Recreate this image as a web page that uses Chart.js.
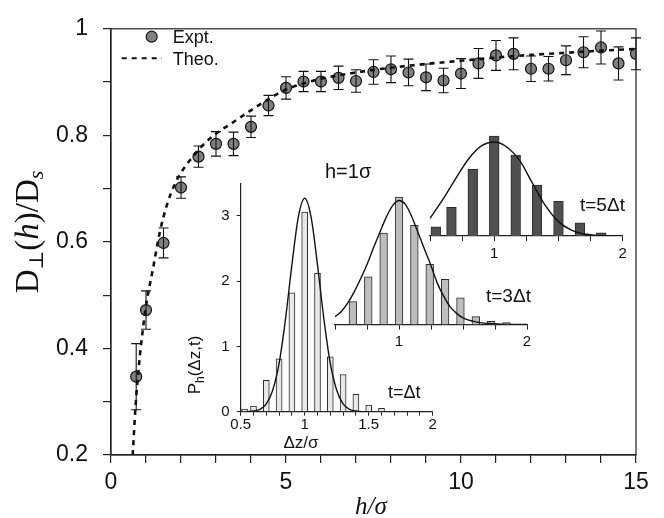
<!DOCTYPE html>
<html>
<head>
<meta charset="utf-8">
<script src="https://cdn.jsdelivr.net/npm/chart.js@4.4.0/dist/chart.umd.min.js"></script>
<style>
  html, body { margin: 0; padding: 0; background: #fff; }
  #wrap { position: relative; width: 664px; height: 518px; }
  #wrap canvas { position: absolute; left: 0; top: 0; }
</style>
</head>
<body>
<div id="wrap">
  <canvas id="main" width="664" height="518"></canvas>
  <canvas id="ins1" width="664" height="518"></canvas>
  <canvas id="ins2" width="664" height="518"></canvas>
  <canvas id="ins3" width="664" height="518"></canvas>
</div>
<script>
// ——— DATA ———
// main panel: D_perp(h)/D_s vs h/sigma
const exptH   = [0.72, 1.0, 1.5, 2.0, 2.5, 3.0, 3.5, 4.0, 4.5, 5.0, 5.5, 6.0, 6.5, 7.0, 7.5,
                 8.0, 8.5, 9.0, 9.5, 10.0, 10.5, 11.0, 11.5, 12.0, 12.5, 13.0, 13.5, 14.0, 14.5, 15.0];
const exptD   = [0.347, 0.472, 0.598, 0.702, 0.760, 0.784, 0.784, 0.816, 0.856, 0.889, 0.901, 0.901, 0.908, 0.902, 0.919,
                 0.924, 0.918, 0.909, 0.903, 0.916, 0.935, 0.950, 0.953, 0.925, 0.925, 0.941, 0.956, 0.965, 0.935, 0.953];
const exptErr = [0.062, 0.036, 0.028, 0.020, 0.020, 0.023, 0.022, 0.020, 0.019, 0.021, 0.019, 0.019, 0.022, 0.021, 0.023,
                 0.025, 0.025, 0.025, 0.023, 0.028, 0.028, 0.028, 0.030, 0.024, 0.023, 0.027, 0.029, 0.031, 0.031, 0.030];
const theoH = [0.62, 0.7, 0.8, 0.9, 1.0, 1.2, 1.4, 1.6, 1.8, 2.0, 2.3, 2.6, 3.0, 3.5, 4.0, 4.5, 5.0,
               6.0, 7.0, 8.0, 9.0, 10.0, 11.0, 12.0, 13.0, 14.0, 15.0];
const theoD = [0.20, 0.29, 0.37, 0.43, 0.48, 0.55, 0.62, 0.67, 0.705, 0.73, 0.757, 0.78, 0.803, 0.825, 0.847, 0.868, 0.886,
               0.906, 0.918, 0.927, 0.934, 0.94, 0.946, 0.951, 0.955, 0.959, 0.962];
const mainXLabels = [0, 5, 10, 15];
const mainYLabels = [0.2, 0.4, 0.6, 0.8, 1];

// insets: P_h(dz,t) histograms + fits, h = 1 sigma
const dt1Bins   = [0.53, 0.6, 0.7, 0.8, 0.9, 1.0, 1.1, 1.2, 1.3, 1.4, 1.5, 1.6];
const dt1Counts = [0.04, 0.087, 0.48, 0.81, 1.82, 3.06, 2.12, 0.84, 0.57, 0.265, 0.10, 0.05];
const dt1FitX   = [0.55, 0.6, 0.65, 0.7, 0.75, 0.8, 0.85, 0.9, 0.95, 1.0, 1.05, 1.1, 1.15, 1.2, 1.25, 1.3, 1.35, 1.4, 1.45, 1.5];
const dt1FitY   = [0.0, 0.01, 0.035, 0.12, 0.33, 0.74, 1.42, 2.25, 2.98, 3.27, 2.98, 2.25, 1.42, 0.74, 0.33, 0.12, 0.035, 0.01, 0.0, 0.0];
const dt1XLabels = [0.5, 1, 1.5, 2];

const dt3Bins   = [0.64, 0.76, 0.88, 1.0, 1.12, 1.24, 1.36, 1.48, 1.60, 1.72, 1.84];
const dt3Counts = [0.35, 0.73, 1.40, 1.95, 1.52, 0.92, 0.69, 0.41, 0.12, 0.05, 0.03];
const dt3FitX   = [0.5, 0.55, 0.6, 0.65, 0.7, 0.75, 0.8, 0.85, 0.9, 0.95, 1.0, 1.05, 1.1, 1.15, 1.2, 1.25, 1.3, 1.35, 1.4, 1.45, 1.5, 1.6, 1.7, 1.8, 2.0];
const dt3FitY   = [0.12, 0.2, 0.33, 0.5, 0.7, 0.92, 1.17, 1.41, 1.64, 1.82, 1.9, 1.84, 1.65, 1.4, 1.15, 0.9, 0.63, 0.43, 0.27, 0.17, 0.1, 0.04, 0.015, 0.005, 0.0];

const dt5Bins   = [0.545, 0.667, 0.833, 1.0, 1.167, 1.333, 1.5, 1.667, 1.833, 2.0];
const dt5Counts = [0.14, 0.44, 1.02, 1.53, 1.24, 0.78, 0.53, 0.20, 0.05, 0.015];
const dt5FitX   = [0.5, 0.6, 0.7, 0.8, 0.9, 1.0, 1.1, 1.2, 1.3, 1.4, 1.5, 1.6, 1.7, 1.8, 1.9, 2.0];
const dt5FitY   = [0.27, 0.56, 0.88, 1.18, 1.38, 1.44, 1.36, 1.15, 0.8, 0.46, 0.22, 0.09, 0.03, 0.01, 0.0, 0.0];
const dtXLabels = [1, 2];

// ——— STYLE ———
const SANS = "'Liberation Sans', Arial, sans-serif";
const SERIF = "'Liberation Serif', 'DejaVu Serif', serif";
const INK = '#111';
const W = 664, H = 518;

const pts = (xs, ys) => xs.map((x, i) => ({ x, y: ys[i] }));
const near = (list, v) => list.some(l => Math.abs(l - v) < 1e-6);

// text made of pieces with different fonts / offsets (sub-scripts)
function drawRich(ctx, segs, x, y, rot) {
  ctx.save();
  ctx.translate(x, y);
  if (rot) ctx.rotate(rot);
  let total = 0;
  segs.forEach(s => { ctx.font = s.font; s.w = ctx.measureText(s.text).width; total += s.w; });
  let cx = -total / 2;
  ctx.textAlign = 'left';
  ctx.textBaseline = 'alphabetic';
  segs.forEach(s => { ctx.font = s.font; ctx.fillText(s.text, cx, s.dy || 0); cx += s.w; });
  ctx.restore();
}

// ——— PLUGINS ———
const errorBars = {
  id: 'errorBars',
  afterDatasetsDraw(chart) {
    const { ctx, scales: { x, y } } = chart;
    ctx.save();
    ctx.strokeStyle = INK;
    ctx.lineWidth = 1.1;
    exptH.forEach((h, i) => {
      const px = x.getPixelForValue(h);
      const top = y.getPixelForValue(exptD[i] + exptErr[i]);
      const bot = y.getPixelForValue(exptD[i] - exptErr[i]);
      ctx.beginPath();
      ctx.moveTo(px, top); ctx.lineTo(px, bot);
      ctx.moveTo(px - 5, top); ctx.lineTo(px + 5, top);
      ctx.moveTo(px - 5, bot); ctx.lineTo(px + 5, bot);
      ctx.stroke();
    });
    ctx.restore();
  }
};

const decorations = {
  id: 'decorations',
  afterDraw(chart) {
    const { ctx, chartArea: a } = chart;
    ctx.save();
    // frame
    ctx.strokeStyle = '#222';
    ctx.lineWidth = 1.2;
    ctx.strokeRect(a.left, a.top, a.right - a.left, a.bottom - a.top);

    // legend
    ctx.fillStyle = '#808080';
    ctx.beginPath(); ctx.arc(151.7, 36.7, 5.5, 0, Math.PI * 2); ctx.fill();
    ctx.strokeStyle = INK; ctx.lineWidth = 1.2; ctx.stroke();
    ctx.setLineDash([5, 5]); ctx.lineWidth = 2;
    ctx.beginPath(); ctx.moveTo(121.7, 58.3); ctx.lineTo(162, 58.3); ctx.stroke();
    ctx.setLineDash([]);
    ctx.fillStyle = INK;
    ctx.font = '18px ' + SANS;
    ctx.textAlign = 'left'; ctx.textBaseline = 'alphabetic';
    ctx.fillText('Expt.', 172.7, 43);
    ctx.fillText('Theo.', 172.7, 64.5);

    // axis titles
    drawRich(ctx, [
      { text: 'D', font: '33px ' + SERIF },
      { text: '⊥', font: '20px ' + SERIF, dy: 5 },
      { text: '(', font: '33px ' + SERIF },
      { text: 'h', font: 'italic 33px ' + SERIF },
      { text: ')/D', font: '33px ' + SERIF },
      { text: 's', font: 'italic 22px ' + SERIF, dy: 5 }
    ], 38, 232, -Math.PI / 2);
    ctx.font = 'italic 25px ' + SERIF;
    ctx.textAlign = 'center';
    ctx.fillText('h/σ', 371, 514);

    // inset labels
    ctx.textAlign = 'left';
    ctx.font = '20px ' + SANS;
    ctx.fillText('h=1σ', 325, 178);
    ctx.font = '18px ' + SANS;
    ctx.fillText('t=Δt', 388, 398);
    ctx.font = '19px ' + SANS;
    ctx.fillText('t=3Δt', 486, 302);
    ctx.fillText('t=5Δt', 580, 210.5);
    ctx.font = '17px ' + SANS;
    ctx.textAlign = 'center';
    ctx.fillText('Δz/σ', 301, 448);
    drawRich(ctx, [
      { text: 'P', font: '17px ' + SANS },
      { text: 'h', font: '12px ' + SANS, dy: 4 },
      { text: '(Δz,t)', font: '17px ' + SANS }
    ], 200, 365, -Math.PI / 2);
    ctx.restore();
  }
};

// ——— MAIN CHART ———
new Chart(document.getElementById('main'), {
  type: 'scatter',
  data: {
    datasets: [
      {
        type: 'line', label: 'Theo.', data: pts(theoH, theoD),
        borderColor: INK, borderWidth: 2.6, borderDash: [5, 5],
        pointRadius: 0, cubicInterpolationMode: 'monotone', fill: false
      },
      {
        label: 'Expt.', data: pts(exptH, exptD),
        pointRadius: 5.5, pointBackgroundColor: '#808080',
        pointBorderColor: INK, pointBorderWidth: 1.2
      }
    ]
  },
  options: {
    responsive: false, animation: false, events: [],
    layout: { padding: { left: 0, top: 16, right: W - 636, bottom: 0 } },
    plugins: { legend: { display: false }, tooltip: { enabled: false } },
    scales: {
      x: {
        type: 'linear', min: 0, max: 15,
        afterFit: s => { s.height = H - 455; },
        ticks: {
          stepSize: 1, autoSkip: false, maxRotation: 0, padding: 6,
          font: { family: SANS, size: 23 }, color: INK,
          callback: v => near(mainXLabels, v) ? String(v) : ''
        },
        grid: { drawOnChartArea: false, tickLength: 8, color: '#222', lineWidth: 1.2 },
        border: { color: '#222', width: 1.2 }
      },
      y: {
        min: 0.2, max: 1,
        afterFit: s => { s.width = 111; },
        ticks: {
          stepSize: 0.1, autoSkip: false, padding: 15,
          font: { family: SANS, size: 23 }, color: INK,
          callback: v => near(mainYLabels, v) ? (Math.abs(v - 1) < 1e-6 ? '1' : v.toFixed(1)) : ''
        },
        grid: { drawOnChartArea: false, tickLength: 8, color: '#222', lineWidth: 1.2 },
        border: { color: '#222', width: 1.2 }
      }
    }
  },
  plugins: [errorBars, decorations]
});

// ——— INSETS ———
function makeInset(id, area, o) {
  const yScale = {
    display: o.showY, min: 0, max: o.yMax, bounds: 'data',
    ticks: { stepSize: 1, includeBounds: false, padding: 7, font: { family: SANS, size: 15 }, color: INK },
    grid: { drawOnChartArea: false, tickLength: 4, color: '#222' },
    border: { color: '#222', width: 1.2 }
  };
  if (o.showY) yScale.afterFit = s => { s.width = area.left; };
  return new Chart(document.getElementById(id), {
    type: 'bar',
    data: {
      datasets: [
        {
          type: 'line', data: pts(o.fitX, o.fitY),
          borderColor: INK, borderWidth: 1.4, pointRadius: 0,
          cubicInterpolationMode: 'monotone', fill: false
        },
        {
          type: 'bar', data: pts(o.bins, o.counts),
          backgroundColor: o.fill, borderColor: '#2a2a2a', borderWidth: 1,
          barThickness: o.barPx, clip: 0
        }
      ]
    },
    options: {
      responsive: false, animation: false, events: [],
      layout: { padding: { left: o.showY ? 0 : area.left, top: area.top, right: W - area.right, bottom: 0 } },
      plugins: { legend: { display: false }, tooltip: { enabled: false } },
      scales: {
        x: {
          type: 'linear', offset: false, min: 0.5, max: 2,
          afterFit: s => { s.height = H - area.bottom; },
          ticks: {
            stepSize: o.xStep, autoSkip: false, maxRotation: 0, padding: o.labelPad,
            font: { family: SANS, size: 15 }, color: INK,
            callback: v => near(o.xLabels, v) ? String(+v.toFixed(2)) : ''
          },
          grid: { offset: false, drawOnChartArea: false, tickLength: o.tickLen, color: '#222' },
          border: { color: '#222', width: 1.2 }
        },
        y: yScale
      }
    }
  });
}

makeInset('ins1', { left: 240.7, right: 432.7, top: 183.3, bottom: 411.7 }, {
  bins: dt1Bins, counts: dt1Counts, fitX: dt1FitX, fitY: dt1FitY,
  fill: '#e8e8e8', barPx: 6, yMax: 3.5, showY: true,
  xStep: 0.1, xLabels: dt1XLabels, labelPad: 0, tickLen: 4
});
makeInset('ins2', { left: 335, right: 527, top: 324.5 - 2.1 * 65.3, bottom: 324.5 }, {
  bins: dt3Bins, counts: dt3Counts, fitX: dt3FitX, fitY: dt3FitY,
  fill: '#bdbdbd', barPx: 7.7, yMax: 2.1, showY: false,
  xStep: 0.25, xLabels: dtXLabels, labelPad: 3.5, tickLen: 5
});
makeInset('ins3', { left: 430, right: 622.7, top: 236 - 1.6 * 65.3, bottom: 236 }, {
  bins: dt5Bins, counts: dt5Counts, fitX: dt5FitX, fitY: dt5FitY,
  fill: '#505050', barPx: 9.7, yMax: 1.6, showY: false,
  xStep: 0.25, xLabels: dtXLabels, labelPad: 3.5, tickLen: 5
});
</script>
</body>
</html>
